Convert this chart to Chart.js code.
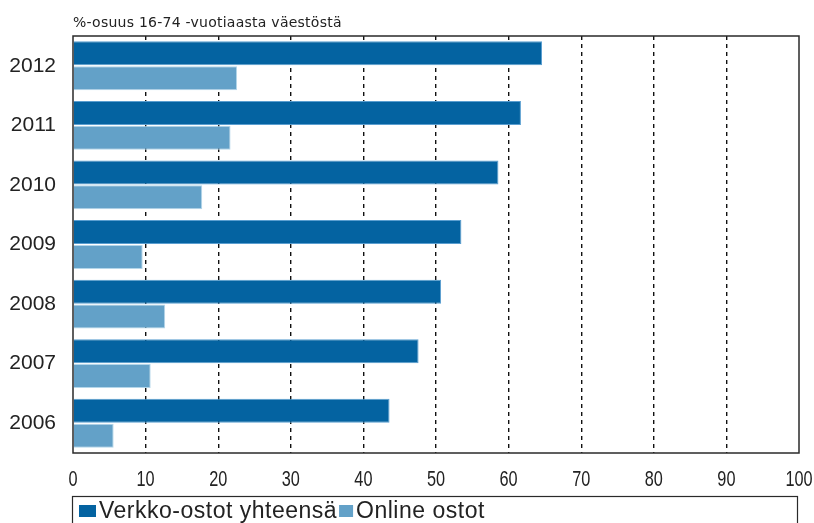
<!DOCTYPE html>
<html>
<head>
<meta charset="utf-8">
<script src="https://cdn.jsdelivr.net/npm/chart.js@4"></script>
<style>
  html, body { margin: 0; padding: 0; background: #fff; }
  #wrap { width: 814px; height: 523px; position: relative; }
</style>
</head>
<body>
<div id="wrap"><canvas id="c" width="814" height="523"></canvas></div>
<script>
const years = ['2012', '2011', '2010', '2009', '2008', '2007', '2006'];
const totalLabel = 'Verkko-ostot yhteensä';
const onlineLabel = 'Online ostot';
const totalValues = [64.6, 61.7, 58.6, 53.5, 50.7, 47.6, 43.6];
const onlineValues = [22.6, 21.7, 17.8, 9.6, 12.7, 10.7, 5.6];
const xTicks = [0, 10, 20, 30, 40, 50, 60, 70, 80, 90, 100];
const subtitle = '%-osuus 16-74 -vuotiaasta väestöstä';

const DARK = '#0463a1';
const LIGHT = '#63a1c8';

const framePlugin = {
  id: 'frame',
  afterDraw(chart) {
    const { ctx, chartArea: a } = chart;
    const xs = chart.scales.x;
    ctx.save();
    // plot frame
    ctx.strokeStyle = '#2a2a2a';
    ctx.lineWidth = 1.5;
    ctx.setLineDash([]);
    ctx.strokeRect(a.left, a.top, a.right - a.left, a.bottom - a.top);
    // subtitle
    ctx.fillStyle = '#222';
    ctx.font = '14px "DejaVu Sans", sans-serif';
    ctx.letterSpacing = '0.25px';
    ctx.textBaseline = 'alphabetic';
    ctx.textAlign = 'left';
    ctx.fillText(subtitle, a.left, 26.5);
    ctx.letterSpacing = '0px';
    // x tick labels (condensed look)
    ctx.font = '22px "Liberation Sans", Arial, sans-serif';
    ctx.textAlign = 'center';
    xTicks.forEach(v => {
      const px = xs.getPixelForValue(v);
      ctx.save();
      ctx.translate(px, 486);
      ctx.scale(0.74, 1);
      ctx.fillText(String(v), 0, 0);
      ctx.restore();
    });
    ctx.textAlign = 'left';
    // legend
    const top = 496;
    ctx.lineWidth = 1.2;
    ctx.strokeRect(a.left - 0.5, top + 0.5, a.right - a.left - 1, 60);
    const ds = chart.data.datasets;
    ctx.font = '23px "Liberation Sans", Arial, sans-serif';
    ctx.letterSpacing = '0.5px';
    let x = a.left + 6;
    const sq = [17, 14];
    ds.forEach((d, i) => {
      ctx.fillStyle = d.backgroundColor;
      ctx.fillRect(x, 505, sq[i], 12);
      x += sq[i] + 3;
      ctx.fillStyle = '#222';
      ctx.fillText(d.label, x, 518);
      x += ctx.measureText(d.label).width + 2;
    });
    ctx.restore();
  }
};

new Chart(document.getElementById('c'), {
  type: 'bar',
  data: {
    labels: years,
    datasets: [
      { label: totalLabel, data: totalValues, backgroundColor: DARK, borderColor: '#5a9ed0', borderWidth: 1,
        categoryPercentage: 0.834, barPercentage: 0.966 },
      { label: onlineLabel, data: onlineValues, backgroundColor: LIGHT, borderColor: '#b4d6ea', borderWidth: 1,
        categoryPercentage: 0.834, barPercentage: 0.966 }
    ]
  },
  options: {
    indexAxis: 'y',
    responsive: false,
    animation: false,
    devicePixelRatio: 1,
    layout: { padding: { top: 36, left: 0, right: 15, bottom: 40 } },
    plugins: {
      legend: { display: false },
      title: { display: false },
      tooltip: { enabled: false }
    },
    scales: {
      x: {
        type: 'linear',
        min: 0, max: 100,
        afterBuildTicks(scale) { scale.ticks = xTicks.map(v => ({ value: v })); },
        afterFit(scale) { scale.height = 30; scale.paddingLeft = 0; scale.paddingRight = 0; },
        border: { display: false, dash: [4, 4] },
        grid: {
          drawTicks: false,
          color: (c) => (c.tick && (c.tick.value === 0 || c.tick.value === 100)) ? 'rgba(0,0,0,0)' : '#111',
          lineWidth: 1.4
        },
        ticks: { display: false }
      },
      y: {
        afterFit(scale) { scale.width = 73; },
        border: { display: false },
        grid: { display: false, drawTicks: false },
        ticks: {
          padding: 17,
          color: '#222',
          font: { family: '"Liberation Sans", Arial, sans-serif', size: 21 }
        }
      }
    }
  },
  plugins: [framePlugin]
});
</script>
</body>
</html>
